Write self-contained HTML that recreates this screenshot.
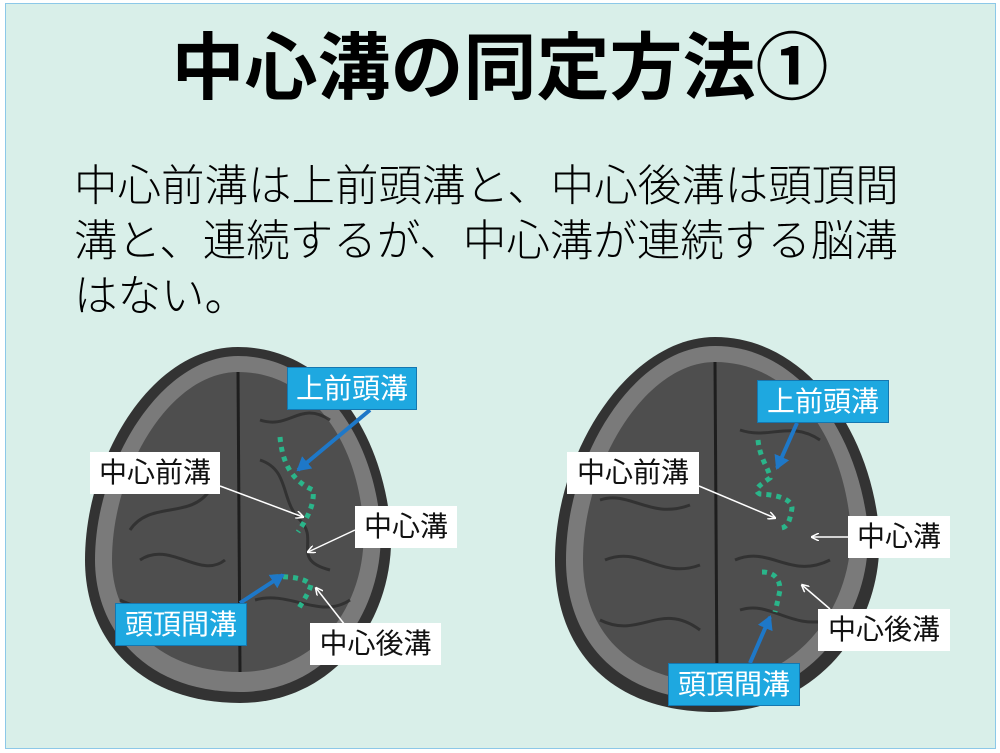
<!DOCTYPE html>
<html><head><meta charset="utf-8"><style>
html,body{margin:0;padding:0;}
body{width:1000px;height:753px;background:#fff;position:relative;overflow:hidden;font-family:"Liberation Sans","Noto Sans CJK JP",sans-serif;}
.slide{position:absolute;left:5px;top:3px;width:989px;height:744px;background:#d9efe9;border:1px solid #8cc8e8;}
.title{position:absolute;left:0;width:1000px;top:24px;text-align:center;font-size:73px;font-weight:bold;line-height:90px;color:#000;white-space:nowrap;}
.body{position:absolute;left:74px;top:160px;width:900px;font-size:43.5px;letter-spacing:0;line-height:55px;color:#000;white-space:nowrap;font-weight:300;}
.lb{position:absolute;font-size:28px;line-height:42px;text-align:center;box-sizing:border-box;white-space:nowrap;}
.w{background:#fff;color:#111;}
.b{background:#1ea8e0;color:#fff;border:1px solid #1577b0;}
</style></head><body>
<div class="slide"></div>
<div class="title">中心溝の同定方法①</div>
<div class="body">中心前溝は上前頭溝と、中心後溝は頭頂間<br>溝と、連続するが、中心溝が連続する脳溝<br>はない。</div>
<svg width="1000" height="753" style="position:absolute;left:0;top:0">
<defs>
<marker id="aw" markerWidth="8" markerHeight="8" refX="7" refY="4" orient="auto" markerUnits="userSpaceOnUse"><path d="M0,0 L8,4 L0,8" fill="none" stroke="#fff" stroke-width="1.5"/></marker>
<marker id="ab" markerWidth="16" markerHeight="16" refX="12" refY="8" orient="auto" markerUnits="userSpaceOnUse"><path d="M0,0 L14,8 L0,16 Z" fill="#1e78c8"/></marker>
</defs>
<!-- left brain -->
<path d="M238,347 C320,347 378,420 390,520 C400,610 340,703 240,703 C140,703 85,640 85,560 C85,460 150,347 238,347 Z" fill="#333"/>
<path d="M238,356 C312,356 370,425 380,520 C388,605 332,692 240,692 C148,692 95,632 95,560 C95,465 160,356 238,356 Z" fill="#7a7a7a"/>
<path d="M238,372 C305,372 355,432 363,520 C370,598 322,672 240,672 C158,672 112,620 112,560 C112,470 170,372 238,372 Z" fill="#4e4e4e"/>
<path d="M238,372 L240,672" stroke="#1e1e1e" stroke-width="3"/>
<g stroke="#2c2c2c" stroke-width="3" fill="none" opacity="0.8">
<path d="M130,470 C160,480 180,460 210,490 C190,520 150,500 130,530"/>
<path d="M140,560 C170,540 200,580 225,560"/>
<path d="M120,600 C160,620 190,590 220,630"/>
<path d="M260,460 C290,470 280,500 300,520 C320,540 290,560 330,570"/>
<path d="M255,600 C290,590 320,620 350,600"/>
<path d="M260,420 C290,430 300,400 330,420"/>
</g>
<path d="M280,437 C282,460 290,480 313,490 C315,505 306,520 298,532" stroke="#2ab58a" stroke-width="5" fill="none" stroke-dasharray="5,5"/>
<path d="M273,577 C290,576 305,578 311,585 C308,595 302,602 298,610" stroke="#2ab58a" stroke-width="5" fill="none" stroke-dasharray="5,5"/>
<line x1="370" y1="410" x2="298" y2="470" stroke="#1e78c8" stroke-width="4" marker-end="url(#ab)"/>
<line x1="240" y1="603" x2="283" y2="575" stroke="#1e78c8" stroke-width="4" marker-end="url(#ab)"/>
<line x1="220" y1="486" x2="303" y2="517" stroke="#fff" stroke-width="1.5" marker-end="url(#aw)"/>
<line x1="355" y1="530" x2="308" y2="552" stroke="#fff" stroke-width="1.5" marker-end="url(#aw)"/>
<line x1="345" y1="625" x2="316" y2="588" stroke="#fff" stroke-width="1.5" marker-end="url(#aw)"/>
<!-- right brain -->
<path d="M715,337 C800,337 865,420 878,520 C890,620 820,712 715,712 C610,712 555,650 555,560 C555,450 630,337 715,337 Z" fill="#333"/>
<path d="M715,346 C795,346 854,425 867,520 C877,612 810,700 715,700 C620,700 566,642 566,560 C566,455 635,346 715,346 Z" fill="#7a7a7a"/>
<path d="M715,362 C788,362 840,430 850,520 C858,600 800,682 715,682 C630,682 583,632 583,560 C583,465 645,362 715,362 Z" fill="#4e4e4e"/>
<path d="M715,362 L717,682" stroke="#1e1e1e" stroke-width="3"/>
<g stroke="#2c2c2c" stroke-width="3" fill="none" opacity="0.8">
<path d="M600,500 C630,490 650,520 690,505"/>
<path d="M605,560 C640,545 660,580 700,565"/>
<path d="M600,620 C640,640 660,600 700,630"/>
<path d="M735,560 C770,545 790,580 830,560"/>
<path d="M740,610 C770,600 790,630 830,620"/>
<path d="M740,430 C770,440 790,420 820,440"/>
</g>
<path d="M758,440 C760,460 770,470 770,478 C760,485 752,490 760,494 C780,495 792,500 792,508 C790,520 788,528 780,528" stroke="#2ab58a" stroke-width="5" fill="none" stroke-dasharray="5,5"/>
<path d="M762,572 C775,572 780,580 780,590 C778,600 776,608 775,612" stroke="#2ab58a" stroke-width="5" fill="none" stroke-dasharray="5,5"/>
<line x1="797" y1="423" x2="777" y2="468" stroke="#1e78c8" stroke-width="4" marker-end="url(#ab)"/>
<line x1="750" y1="663" x2="770" y2="617" stroke="#1e78c8" stroke-width="4" marker-end="url(#ab)"/>
<line x1="699" y1="486" x2="775" y2="518" stroke="#fff" stroke-width="1.5" marker-end="url(#aw)"/>
<line x1="848" y1="537" x2="812" y2="537" stroke="#fff" stroke-width="1.5" marker-end="url(#aw)"/>
<line x1="830" y1="609" x2="802" y2="585" stroke="#fff" stroke-width="1.5" marker-end="url(#aw)"/>
</svg>
<div class="lb b" style="left:287px;top:367px;width:130px;height:43px;">上前頭溝</div>
<div class="lb w" style="left:90px;top:452px;width:130px;height:42px;">中心前溝</div>
<div class="lb w" style="left:355px;top:506px;width:102px;height:42px;">中心溝</div>
<div class="lb b" style="left:115px;top:603px;width:132px;height:43px;">頭頂間溝</div>
<div class="lb w" style="left:310px;top:623px;width:131px;height:42px;">中心後溝</div>
<div class="lb b" style="left:757px;top:380px;width:132px;height:43px;">上前頭溝</div>
<div class="lb w" style="left:567px;top:452px;width:132px;height:42px;">中心前溝</div>
<div class="lb w" style="left:848px;top:516px;width:102px;height:42px;">中心溝</div>
<div class="lb w" style="left:818px;top:609px;width:132px;height:42px;">中心後溝</div>
<div class="lb b" style="left:668px;top:663px;width:132px;height:43px;">頭頂間溝</div>
</body></html>
